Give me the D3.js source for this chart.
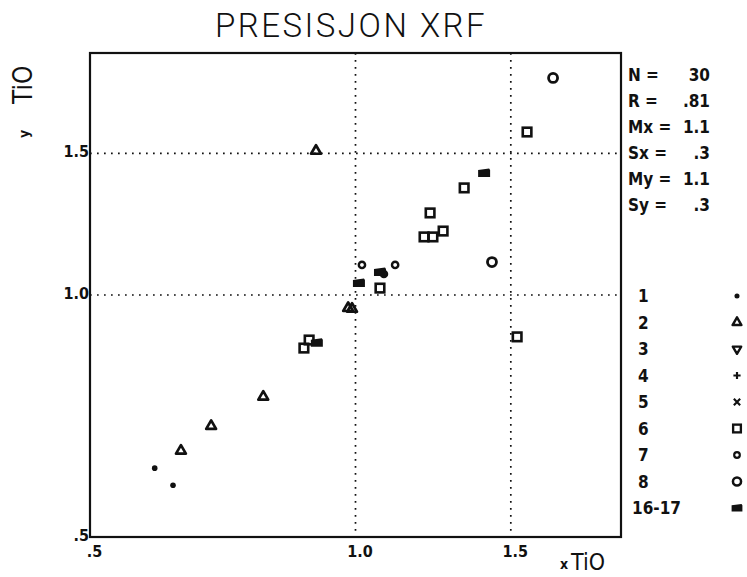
<!DOCTYPE html>
<html>
<head>
<meta charset="utf-8">
<script src="https://cdn.jsdelivr.net/npm/d3@7"></script>
<style>
  html, body { margin: 0; padding: 0; background: #fff; }
  svg { display: block; }
  text { fill: #111; }
</style>
</head>
<body>
<svg id="chart" width="747" height="577"></svg>
<script>
// Precision of XRF determinations: duplicate analyses (x vs y), log-log axes.
const titleText = "PRESISJON XRF";
const axisTicks = [0.5, 1.0, 1.5];
const tickLabels = [".5", "1.0", "1.5"];
const gridValues = [1.0, 1.5];

// Series 1: small filled dots
const s1x = [0.592, 0.621];
const s1y = [0.609, 0.580];
// Series 2: triangles
const s2x = [0.902, 0.981, 0.991, 0.786, 0.686, 0.634];
const s2y = [1.511, 0.963, 0.961, 0.747, 0.687, 0.640];
// Series 6: squares
const s6x = [1.565, 1.328, 1.215, 1.196, 1.224, 1.257, 1.066, 0.874, 0.886, 1.525];
const s6y = [1.595, 1.359, 1.265, 1.181, 1.181, 1.201, 1.020, 0.859, 0.879, 0.887];
// Series 7: small circles
const s7x = [1.017, 1.109, 1.077];
const s7y = [1.090, 1.090, 1.062];
// Series 8: circles
const s8x = [1.675, 1.428];
const s8y = [1.862, 1.099];
// Series 16-17: filled blocks
const s16x = [1.399, 1.009, 1.066, 0.904];
const s16y = [1.418, 1.035, 1.068, 0.872];

// Summary statistics
const statNames = ["N =", "R =", "Mx =", "Sx =", "My =", "Sy ="];
const statValues = ["30", ".81", "1.1", ".3", "1.1", ".3"];

// Legend
const legendLabels = ["1", "2", "3", "4", "5", "6", "7", "8", "16-17"];
const legendKinds = ["dot", "tri", "tridown", "plus", "cross", "square", "circleSmall", "circle", "block"];

const svg = d3.select("#chart");
const plotL = 90, plotR = 621, plotT = 53, plotB = 537;

const x = d3.scaleLog().domain([0.5, 2.0]).range([plotL, plotR]);
const y = d3.scaleLog().domain([0.5, 2.0]).range([plotB, plotT]);

const numFont = "'Liberation Sans Narrow','DejaVu Sans Condensed','Liberation Sans',sans-serif";

// Title
svg.append("text")
  .attr("x", 351).attr("y", 37)
  .attr("text-anchor", "middle")
  .style("font-family", "Roboto, 'Open Sans', sans-serif")
  .style("font-weight", 300)
  .style("font-size", "33px")
  .style("letter-spacing", "2.5px")
  .text(titleText);

// Dotted grid lines
const grid = svg.append("g")
  .attr("stroke", "#111").attr("stroke-width", 1.7)
  .attr("stroke-dasharray", "1.7,5.3").attr("fill", "none");
grid.selectAll("line.v").data(gridValues).join("line").attr("class", "v")
  .attr("x1", d => x(d)).attr("x2", d => x(d))
  .attr("y1", plotT).attr("y2", plotB);
grid.selectAll("line.h").data(gridValues).join("line").attr("class", "h")
  .attr("x1", plotL).attr("x2", plotR)
  .attr("y1", d => y(d)).attr("y2", d => y(d));

// Axes drawn through d3 axis generators, then styled as plain labels
const xAxis = d3.axisBottom(x).tickValues(axisTicks)
  .tickFormat((d, i) => tickLabels[i]).tickSize(0).tickPadding(9);
const yAxis = d3.axisLeft(y).tickValues(axisTicks)
  .tickFormat((d, i) => tickLabels[i]).tickSize(0).tickPadding(1);

const gx = svg.append("g").attr("transform", `translate(0,${plotB})`).call(xAxis);
const gy = svg.append("g").attr("transform", `translate(${plotL},0)`).call(yAxis);
[gx, gy].forEach(g => {
  g.select(".domain").remove();
  g.selectAll("text")
    .style("font-family", numFont)
    .style("font-weight", "bold")
    .style("font-size", "16px")
    .attr("fill", "#111");
});
gx.selectAll("text").attr("dx", 4);
gy.selectAll("text").attr("dy", "0.2em");

// Frame
svg.append("rect")
  .attr("x", plotL).attr("y", plotT)
  .attr("width", plotR - plotL).attr("height", plotB - plotT)
  .attr("fill", "none").attr("stroke", "#111").attr("stroke-width", 2.2);

// Marker drawing
function marker(g, kind, cx, cy, k = 1) {
  const s = g.append("g").attr("transform", `translate(${cx},${cy}) scale(${k})`);
  const ink = "#111";
  switch (kind) {
    case "dot":
      s.append("circle").attr("r", 2.8).attr("fill", ink);
      break;
    case "tri":
      s.append("path")
        .attr("d", d3.symbol(d3.symbolTriangle, 42)())
        .attr("fill", "none").attr("stroke", ink).attr("stroke-width", 2.7)
        .attr("stroke-linejoin", "round");
      break;
    case "tridown":
      s.append("path")
        .attr("d", d3.symbol(d3.symbolTriangle, 38)())
        .attr("transform", "rotate(180)")
        .attr("fill", "none").attr("stroke", ink).attr("stroke-width", 2.6)
        .attr("stroke-linejoin", "round");
      break;
    case "plus":
      s.append("path").attr("d", "M-4,0H4M0,-4V4")
        .attr("stroke", ink).attr("stroke-width", 2.4);
      break;
    case "cross":
      s.append("path").attr("d", "M-3.5,-3.5L3.5,3.5M-3.5,3.5L3.5,-3.5")
        .attr("stroke", ink).attr("stroke-width", 2.4);
      break;
    case "square":
      s.append("rect").attr("x", -4.3).attr("y", -4.3).attr("width", 8.6).attr("height", 8.6)
        .attr("fill", "none").attr("stroke", ink).attr("stroke-width", 2.6);
      break;
    case "circleSmall":
      s.append("circle").attr("r", 3.1)
        .attr("fill", "none").attr("stroke", ink).attr("stroke-width", 2.5);
      break;
    case "circle":
      s.append("circle").attr("r", 4.5)
        .attr("fill", "none").attr("stroke", ink).attr("stroke-width", 2.8);
      break;
    case "block":
      s.append("path").attr("d", "M-6,-3L5,-4.5L6,-3L6,4H-6Z").attr("fill", ink);
      break;
  }
}

const pts = svg.append("g");
const seriesList = [
  { xs: s1x, ys: s1y, kind: "dot" },
  { xs: s2x, ys: s2y, kind: "tri" },
  { xs: s6x, ys: s6y, kind: "square" },
  { xs: s7x, ys: s7y, kind: "circleSmall" },
  { xs: s8x, ys: s8y, kind: "circle" },
  { xs: s16x, ys: s16y, kind: "block" }
];
seriesList.forEach(sr => {
  sr.xs.forEach((v, i) => marker(pts, sr.kind, x(v), y(sr.ys[i])));
});

// Statistics block
const stats = svg.append("g")
  .style("font-family", numFont).style("font-weight", "bold").style("font-size", "17px");
statNames.forEach((n, i) => {
  const yy = 81 + i * 26;
  stats.append("text").attr("x", 628).attr("y", yy).text(n);
  stats.append("text").attr("x", 710).attr("y", yy).attr("text-anchor", "end").text(statValues[i]);
});

// Legend
const leg = svg.append("g")
  .style("font-family", numFont).style("font-weight", "bold").style("font-size", "17px");
legendLabels.forEach((lab, i) => {
  const yy = 296 + i * 26.5;
  leg.append("text").attr("x", lab.length > 1 ? 632 : 638).attr("y", yy + 6).text(lab);
  marker(leg, legendKinds[i], 737, yy, 0.9);
});

// Axis titles
const labFont = "'DejaVu Sans Condensed','Liberation Sans Narrow',sans-serif";
svg.append("text").attr("x", 560).attr("y", 569)
  .style("font-family", labFont).style("font-size", "14px").style("font-weight", "bold").text("x");
svg.append("text").attr("x", 571).attr("y", 570)
  .style("font-family", labFont).style("font-size", "23px").text("TiO");

const yl = svg.append("g").attr("transform", "translate(32,0) rotate(-90)");
yl.append("text").attr("x", -138).attr("y", -3)
  .style("font-family", labFont).style("font-size", "14px").style("font-weight", "bold").text("y");
yl.append("text").attr("x", -104).attr("y", 0)
  .style("font-family", labFont).style("font-size", "26px").text("TiO");
</script>
</body>
</html>
